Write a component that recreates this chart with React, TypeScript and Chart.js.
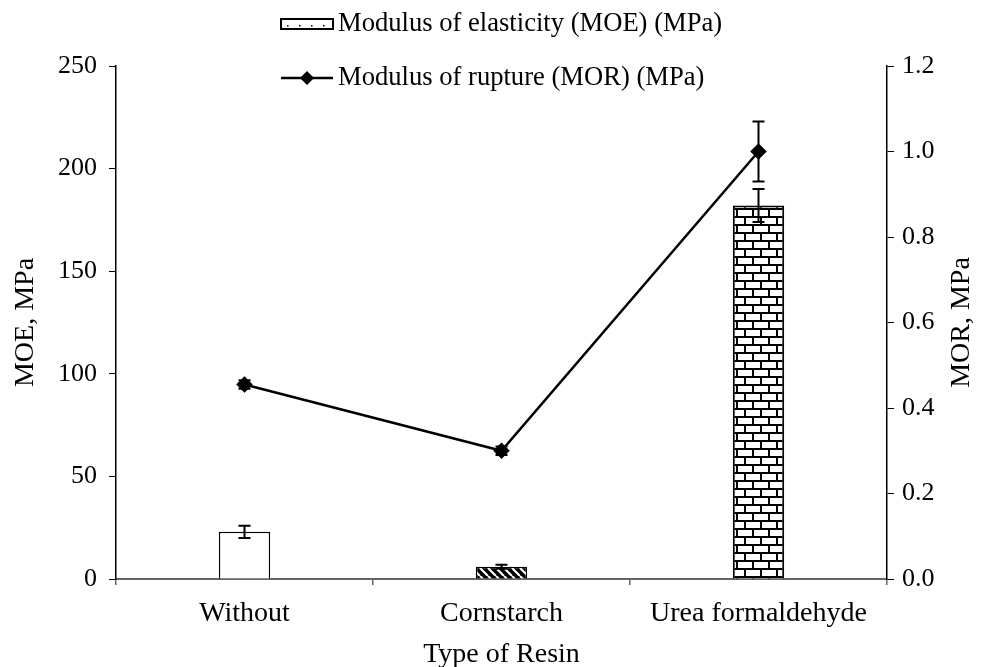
import React, { useEffect, useRef } from 'react';
import { Chart, registerables } from 'chart.js';

Chart.register(...registerables);

const categories = ['Without', 'Cornstarch', 'Urea formaldehyde'];
const moeValues = [23, 6, 182];
const moeErrors = [3, 1, 8];
const morValues = [0.455, 0.3, 1.0];
const morErrors = [0.01, 0.01, 0.07];
const legendLabels = ['Modulus of elasticity (MOE) (MPa)', 'Modulus of rupture (MOR) (MPa)'];
const xTitle = 'Type of Resin';
const yLeftTitle = 'MOE, MPa';
const yRightTitle = 'MOR, MPa';

const FONT = "'Liberation Serif', 'Times New Roman', serif";

function makeHatch(): CanvasPattern | string {
  const c = document.createElement('canvas');
  c.width = 8; c.height = 8;
  const g = c.getContext('2d');
  if (!g) return '#000';
  g.fillStyle = '#000';
  g.fillRect(0, 0, 8, 8);
  g.strokeStyle = '#fff';
  g.lineWidth = 2.2;
  g.beginPath();
  for (let k = -16; k <= 16; k += 8) {
    g.moveTo(k, 0);
    g.lineTo(k + 8, 8);
  }
  g.stroke();
  return g.createPattern(c, 'repeat') || '#000';
}

function makeBrick(): CanvasPattern | string {
  const c = document.createElement('canvas');
  c.width = 16; c.height = 16;
  const g = c.getContext('2d');
  if (!g) return '#fff';
  g.fillStyle = '#fff';
  g.fillRect(0, 0, 16, 16);
  g.fillStyle = '#000';
  g.fillRect(0, 0, 16, 2);
  g.fillRect(0, 8, 16, 2);
  g.fillRect(0, 0, 2, 8);
  g.fillRect(8, 8, 2, 8);
  return g.createPattern(c, 'repeat') || '#fff';
}

const errorBarPlugin = {
  id: 'errorBars',
  afterDatasetsDraw(chart: any) {
    const ctx = chart.ctx;
    chart.data.datasets.forEach((ds: any, i: number) => {
      const errs = ds.errors;
      if (!errs) return;
      const meta = chart.getDatasetMeta(i);
      const scale = chart.scales[meta.yAxisID];
      meta.data.forEach((el: any, j: number) => {
        const v = ds.data[j];
        const e = errs[j];
        const x = el.x;
        const yT = scale.getPixelForValue(v + e);
        const yB = scale.getPixelForValue(v - e);
        ctx.save();
        ctx.strokeStyle = '#000';
        ctx.lineWidth = 2;
        ctx.beginPath();
        ctx.moveTo(x, yT); ctx.lineTo(x, yB);
        ctx.moveTo(x - 6, yT); ctx.lineTo(x + 6, yT);
        ctx.moveTo(x - 6, yB); ctx.lineTo(x + 6, yB);
        ctx.stroke();
        ctx.restore();
      });
    });
  },
};

const legendPlugin = {
  id: 'customLegend',
  afterDraw(chart: any) {
    const ctx = chart.ctx;
    ctx.save();
    const iconL = 281, iconR = 333, textX = 338;
    const y1 = 24, y2 = 78;
    // MOE icon
    ctx.fillStyle = '#fff';
    ctx.fillRect(iconL, y1 - 5, iconR - iconL, 10);
    ctx.strokeStyle = '#000';
    ctx.lineWidth = 2;
    ctx.strokeRect(iconL, y1 - 5, iconR - iconL, 10);
    ctx.fillStyle = '#000';
    for (let x = iconL + 6; x < iconR - 3; x += 12) {
      ctx.fillRect(x, y1 + 1, 1.5, 1.5);
    }
    // MOR icon
    ctx.beginPath();
    ctx.moveTo(iconL, y2); ctx.lineTo(iconR, y2);
    ctx.lineWidth = 2.5;
    ctx.stroke();
    const cx = (iconL + iconR) / 2;
    ctx.beginPath();
    ctx.moveTo(cx, y2 - 7); ctx.lineTo(cx + 7, y2); ctx.lineTo(cx, y2 + 7); ctx.lineTo(cx - 7, y2);
    ctx.closePath();
    ctx.fill();
    ctx.font = `26.6px ${FONT}`;
    ctx.textBaseline = 'middle';
    ctx.textAlign = 'left';
    ctx.fillText(legendLabels[0], textX, y1);
    ctx.fillText(legendLabels[1], textX, y2);

    // right axis title, reading bottom to top
    const area = chart.chartArea;
    ctx.translate(962, (area.top + area.bottom) / 2);
    ctx.rotate(-Math.PI / 2);
    ctx.font = `28px ${FONT}`;
    ctx.textAlign = 'center';
    ctx.fillText(yRightTitle, 0, 0);
    ctx.restore();
  },
};

export default function App() {
  const ref = useRef<HTMLCanvasElement>(null);
  useEffect(() => {
    if (!ref.current) return;
    const hatch = makeHatch();
    const brick = makeBrick();
    const chart = new Chart(ref.current, {
      data: {
        labels: categories,
        datasets: [
          {
            type: 'line',
            label: legendLabels[1],
            data: morValues,
            errors: morErrors,
            yAxisID: 'y1',
            borderColor: '#000',
            backgroundColor: '#000',
            borderWidth: 2.5,
            pointStyle: 'rectRot',
            pointRadius: 6.5,
            pointBackgroundColor: '#000',
            pointBorderColor: '#000',
            order: 0,
          } as any,
          {
            type: 'bar',
            label: legendLabels[0],
            data: moeValues,
            errors: moeErrors,
            yAxisID: 'y',
            backgroundColor: ['#fff', hatch, brick],
            borderColor: '#000',
            borderWidth: [1.5, 1.5, 2],
            barPercentage: 0.2,
            categoryPercentage: 1.0,
            order: 1,
          } as any,
        ],
      },
      options: {
        responsive: false,
        animation: false,
        layout: { padding: { top: 66, left: 0, right: 0, bottom: 0 } },
        plugins: {
          legend: { display: false },
          tooltip: { enabled: false },
        },
        scales: {
          x: {
            offset: true,
            afterFit: (s: any) => { s.height = 88; },
            grid: {
              display: true,
              drawOnChartArea: false,
              drawTicks: true,
              tickLength: 6,
              offset: true,
              color: '#666',
              lineWidth: 1.5,
            },
            border: { display: true, color: '#666', width: 2 },
            ticks: { color: '#000', font: { family: FONT, size: 28 }, padding: 12, maxRotation: 0 },
            title: {
              display: true,
              text: xTitle,
              color: '#000',
              font: { family: FONT, size: 28, lineHeight: 0.85 },
              padding: { top: 0, bottom: 0 },
            },
          },
          y: {
            position: 'left',
            min: 0,
            max: 250,
            afterFit: (s: any) => { s.width = 116; },
            grid: { display: true, drawOnChartArea: false, drawTicks: true, tickLength: 7, color: '#000' },
            border: { display: true, color: '#000', width: 1.5 },
            ticks: { stepSize: 50, color: '#000', font: { family: FONT, size: 26 }, padding: 12 },
            title: {
              display: true,
              text: yLeftTitle,
              color: '#000',
              font: { family: FONT, size: 28 },
              padding: { top: 9, bottom: 0 },
            },
          },
          y1: {
            position: 'right',
            min: 0,
            max: 1.2,
            afterFit: (s: any) => { s.width = 99; },
            grid: { display: true, drawOnChartArea: false, drawTicks: true, tickLength: 7, color: '#000' },
            border: { display: true, color: '#000', width: 1.5 },
            ticks: {
              stepSize: 0.2,
              color: '#000',
              font: { family: FONT, size: 26 },
              padding: 8,
              callback: (v: any) => Number(v).toFixed(1),
            },
            title: { display: false },
          },
        },
      } as any,
      plugins: [errorBarPlugin, legendPlugin],
    });
    return () => chart.destroy();
  }, []);
  return (
    <canvas
      ref={ref}
      width={986}
      height={667}
      style={{ position: 'fixed', left: 0, top: 0, width: 986, height: 667, display: 'block', background: '#fff' }}
    />
  );
}
